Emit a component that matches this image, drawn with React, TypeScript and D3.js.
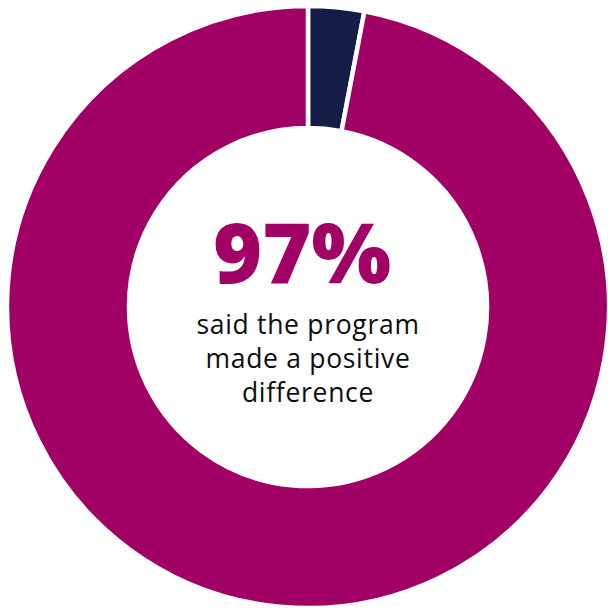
import { useEffect, useRef } from 'react';
import * as d3 from 'd3';

// slice data
const labels: string[] = ['No difference', 'Positive difference'];
const values: number[] = [3, 97];
const colors: string[] = ['#131d45', '#a10064'];

const headline = '97%';
const caption: string[] = ['said the program', 'made a positive', 'difference'];

const App: React.FC = () => {
  const svgRef = useRef<SVGSVGElement | null>(null);

  useEffect(() => {
    document.body.style.margin = '0';
    if (!svgRef.current) return;

    const width = 608;
    const height = 610;
    const cx = 308;
    const cy = 307;
    const outerR = 301;
    const innerR = 179;

    const svg = d3.select(svgRef.current);
    svg.selectAll('*').remove();

    const g = svg.append('g').attr('transform', `translate(${cx},${cy})`);

    const pie = d3
      .pie<number>()
      .sort(null)
      .value((d) => d);

    const arc = d3
      .arc<d3.PieArcDatum<number>>()
      .innerRadius(innerR)
      .outerRadius(outerR);

    g.selectAll('path')
      .data(pie(values))
      .enter()
      .append('path')
      .attr('d', arc)
      .attr('fill', (_, i) => colors[i])
      .attr('stroke', '#fff')
      .attr('stroke-width', 4.5)
      .append('title')
      .text((_, i) => labels[i]);

    g.append('text')
      .attr('x', -6)
      .attr('y', -24)
      .attr('text-anchor', 'middle')
      .attr('font-family', "'Open Sans', sans-serif")
      .attr('font-weight', 800)
      .attr('font-size', 84)
      .attr('fill', colors[1])
      .text(headline);

    caption.forEach((line, i) => {
      g.append('text')
        .attr('x', 0)
        .attr('y', 27 + i * 34)
        .attr('text-anchor', 'middle')
        .attr('font-family', "'Open Sans', sans-serif")
        .attr('font-size', 26.5)
        .attr('letter-spacing', 0.7)
        .attr('fill', '#0d0d0d')
        .text(line);
    });

    svg.attr('width', width).attr('height', height);
  }, []);

  return <svg ref={svgRef} width={608} height={610} style={{ display: 'block' }}></svg>;
};

export default App;
